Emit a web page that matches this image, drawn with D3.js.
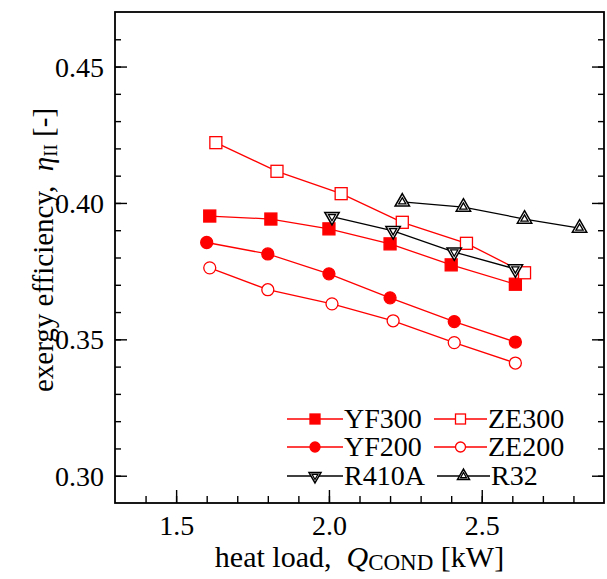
<!DOCTYPE html>
<html>
<head>
<meta charset="utf-8">
<script src="https://cdn.jsdelivr.net/npm/d3@7"></script>
<style>
  html, body { margin: 0; padding: 0; background: #fff; }
  svg { display: block; }
  svg text { font-family: "Liberation Serif", "Times New Roman", serif !important; fill: #000; }
</style>
</head>
<body>
<svg id="chart" width="607" height="579" font-family="Liberation Serif"></svg>
<script>
// ---- data ----
const yf300X = [1.61, 1.81, 2.00, 2.20, 2.40, 2.61];
const yf300Y = [0.3952, 0.3941, 0.3905, 0.3850, 0.3773, 0.3702];
const ze300X = [1.63, 1.83, 2.04, 2.24, 2.45, 2.64];
const ze300Y = [0.4221, 0.4116, 0.4034, 0.3929, 0.3852, 0.3744];
const yf200X = [1.60, 1.80, 2.00, 2.20, 2.41, 2.61];
const yf200Y = [0.3855, 0.3813, 0.3740, 0.3652, 0.3565, 0.3490];
const ze200X = [1.61, 1.80, 2.01, 2.21, 2.41, 2.61];
const ze200Y = [0.3762, 0.3682, 0.3630, 0.3568, 0.3488, 0.3413];
const r410aX = [2.01, 2.21, 2.41, 2.61];
const r410aY = [0.3950, 0.3898, 0.3820, 0.3758];
const r32X = [2.24, 2.44, 2.64, 2.82];
const r32Y = [0.4004, 0.3985, 0.3941, 0.3908];

const xTicks = [1.5, 2.0, 2.5];
const xTickLabels = ["1.5", "2.0", "2.5"];
const yTicks = [0.30, 0.35, 0.40, 0.45];
const yTickLabels = ["0.30", "0.35", "0.40", "0.45"];

const series = [
  { name: "YF300", xs: yf300X, ys: yf300Y, color: "#ff0000", marker: "square", fill: true },
  { name: "ZE300", xs: ze300X, ys: ze300Y, color: "#ff0000", marker: "square", fill: false },
  { name: "YF200", xs: yf200X, ys: yf200Y, color: "#ff0000", marker: "circle", fill: true },
  { name: "ZE200", xs: ze200X, ys: ze200Y, color: "#ff0000", marker: "circle", fill: false },
  { name: "R410A", xs: r410aX, ys: r410aY, color: "#000000", marker: "tridown", fill: false },
  { name: "R32", xs: r32X, ys: r32Y, color: "#000000", marker: "triup", fill: false }
];

// ---- layout ----
const W = 607, H = 579;
const m = { left: 115, top: 12, right: 3, bottom: 76 };
const pw = W - m.left - m.right, ph = H - m.top - m.bottom;
const FONT = "Liberation Serif";

const svg = d3.select("#chart");
const g = svg.append("g").attr("transform", `translate(${m.left},${m.top})`);

const x = d3.scaleLinear().domain([1.3, 2.9]).range([0, pw]);
const y = d3.scaleLinear().domain([0.29, 0.47]).range([ph, 0]);

// ---- axes ----
const xMinor = d3.range(1.4, 2.9, 0.1).map(v => +v.toFixed(2));
const yMinor = d3.range(0.30, 0.47, 0.01).map(v => +v.toFixed(3));

function styleAxis(sel) {
  sel.attr("font-family", FONT);
  sel.select(".domain").remove();
  sel.selectAll("line").attr("stroke", "#000").attr("stroke-width", 1.4);
}

g.append("g").attr("transform", `translate(0,${ph})`)
  .call(d3.axisBottom(x).tickValues(xMinor).tickSize(-7).tickFormat(""))
  .call(styleAxis);
const xa = g.append("g").attr("transform", `translate(0,${ph})`)
  .call(d3.axisBottom(x).tickValues(xTicks).tickSize(-13).tickPadding(0)
    .tickFormat((d, i) => xTickLabels[i]))
  .call(styleAxis);
xa.selectAll("text").attr("font-size", 28).attr("y", 32).attr("dy", 0);

g.append("g")
  .call(d3.axisLeft(y).tickValues(yMinor).tickSize(-6).tickFormat(""))
  .call(styleAxis);
const ya = g.append("g")
  .call(d3.axisLeft(y).tickValues(yTicks).tickSize(-12)
    .tickFormat((d, i) => yTickLabels[i]))
  .call(styleAxis);
ya.selectAll("text").attr("font-size", 28).attr("x", -11).attr("dy", "0.34em");

g.append("g").attr("transform", `translate(${pw},0)`)
  .call(d3.axisRight(y).tickValues(yMinor).tickSize(-6).tickFormat(""))
  .call(styleAxis);
g.append("g").attr("transform", `translate(${pw},0)`)
  .call(d3.axisRight(y).tickValues(yTicks).tickSize(-12).tickFormat(""))
  .call(styleAxis);

g.append("rect").attr("x", 0).attr("y", 0).attr("width", pw).attr("height", ph)
  .attr("fill", "none").attr("stroke", "#000").attr("stroke-width", 1.8);

// ---- markers ----
function triPath(s, down) {
  const h = s * Math.sqrt(3) / 2;
  const a = -h * 2 / 3, b = h / 3;
  const sg = down ? -1 : 1;
  return `M0,${sg * a}L${s / 2},${sg * b}L${-s / 2},${sg * b}Z`;
}
function drawMarker(sel, sr, size) {
  if (sr.marker === "square") {
    sel.append("rect").attr("x", -size / 2).attr("y", -size / 2)
      .attr("width", size).attr("height", size)
      .attr("fill", sr.fill ? sr.color : "#fff").attr("stroke", sr.color).attr("stroke-width", 1.3);
  } else if (sr.marker === "circle") {
    sel.append("circle").attr("r", size / 2)
      .attr("fill", sr.fill ? sr.color : "#fff").attr("stroke", sr.color).attr("stroke-width", 1.3);
  } else {
    const down = sr.marker === "tridown";
    const s = size * 1.2;
    sel.append("path").attr("d", triPath(s, down))
      .attr("fill", "#fff").attr("stroke", "#000").attr("stroke-width", 1.5);
    sel.append("path").attr("d", triPath(s * 0.5, down))
      .attr("fill", "#fff").attr("stroke", "#000").attr("stroke-width", 1.3);
  }
}

const line = d3.line().x(d => x(d[0])).y(d => y(d[1]));
series.forEach(sr => {
  const pts = sr.xs.map((v, i) => [v, sr.ys[i]]);
  g.append("path").datum(pts).attr("d", line)
    .attr("fill", "none").attr("stroke", sr.color).attr("stroke-width", 1.3);
  g.selectAll(null).data(pts).enter().append("g")
    .attr("transform", d => `translate(${x(d[0])},${y(d[1])})`)
    .each(function () { drawMarker(d3.select(this), sr, 12); });
});

// ---- legend ----
const legCols = [{ x0: 287, x1: 343, tx: 344 }, { x0: 434, x1: 487, tx: 488 }];
const legRows = [419, 447, 476];
series.forEach((sr, i) => {
  const c = legCols[i % 2], r = legRows[Math.floor(i / 2)];
  const off = sr.marker === "triup" ? 3 : 0;
  const lg = svg.append("g");
  lg.append("line").attr("x1", c.x0 + off).attr("x2", c.x1 + off)
    .attr("y1", r).attr("y2", r).attr("stroke", sr.color).attr("stroke-width", 1.3);
  const mg = lg.append("g").attr("transform", `translate(${(c.x0 + c.x1) / 2 + off},${r})`);
  drawMarker(mg, sr, 10);
  lg.append("text").attr("x", c.tx + off).attr("y", r + 9)
    .attr("font-family", FONT).attr("font-size", 28).text(sr.name);
});

// ---- axis titles ----
const xt = svg.append("text").attr("x", m.left + pw / 2).attr("y", 567)
  .attr("text-anchor", "middle").attr("font-family", FONT).attr("font-size", 30);
xt.append("tspan").text("heat load,\u00a0\u00a0");
xt.append("tspan").attr("font-style", "italic").text("Q");
xt.append("tspan").attr("font-size", 23).attr("dy", 3).text("COND");
xt.append("tspan").attr("dy", -3).text(" [kW]");

const yt = svg.append("text").attr("transform", `translate(53,250) rotate(-90)`)
  .attr("text-anchor", "middle").attr("font-family", FONT).attr("font-size", 29);
yt.append("tspan").text("exergy efficiency,\u00a0\u00a0");
yt.append("tspan").attr("font-style", "italic").text("η");
yt.append("tspan").attr("font-size", 19).attr("dy", 4).text("II");
yt.append("tspan").attr("dy", -4).text(" [-]");
</script>
</body>
</html>
